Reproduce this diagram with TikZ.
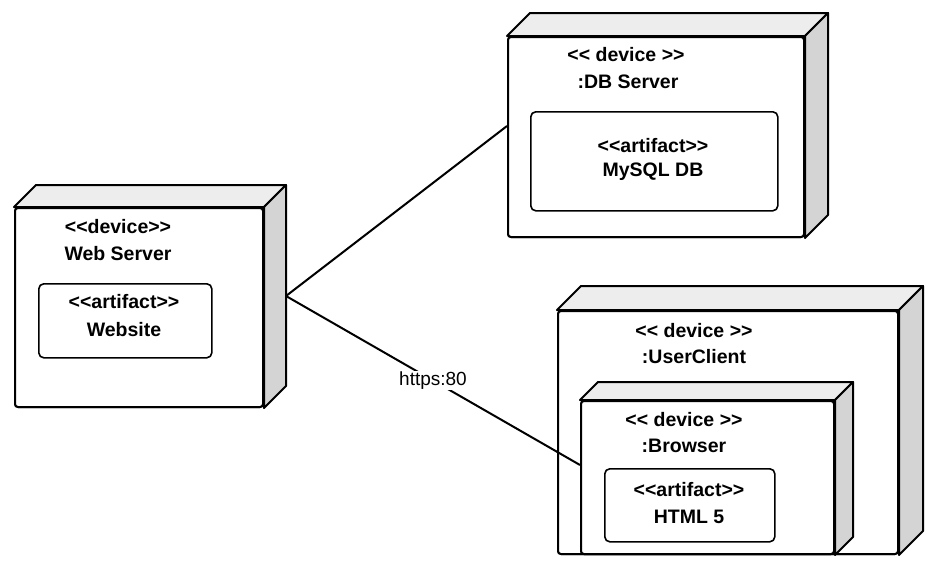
\documentclass[tikz,border=0pt]{standalone}
\usepackage{fontspec}
\setmainfont{Liberation Sans}
\newcommand\LLg{<\kern0pt<}
\newcommand\GGg{>\kern0pt>}
\begin{document}
\begin{tikzpicture}[x=1pt,y=-1pt,line width=2pt,line join=round,
  face/.style={draw,fill=white,rounded corners=3pt,anchor=north west,inner sep=0pt},
  art/.style={draw,fill=white,rounded corners=5pt,anchor=north west,inner sep=0pt,line width=1.6pt},
  lbl/.style={font=\fontsize{19.5}{22}\bfseries\selectfont,inner sep=0pt},
  topc/.style={fill=black!7,draw},
  sidec/.style={fill=black!17,draw}]
\useasboundingbox (0,0) rectangle (935,563);
\newcommand\cubefaces[2]{%
  \filldraw[topc] (#1.north west) -- ++(#2,-#2) -- ([shift={(#2,-#2)}]#1.north east) -- (#1.north east) -- cycle;
  \filldraw[sidec] (#1.north east) -- ++(#2,-#2) -- ([shift={(#2,-#2)}]#1.south east) -- (#1.south east) -- cycle;}
\coordinate (hub) at (286,296);
% Web Server
\node[face,minimum width=248,minimum height=199] (web) at (14,207) {};
\cubefaces{web}{22}
\node[face] at (14,207) [minimum width=248,minimum height=199] {};
\node[lbl] (webt1) at (118,227) {\LLg device\GGg};
\node[lbl] (webt2) at (118,254) {Web Server};
\node[art,minimum width=173,minimum height=74] (webart) at (38,283) {};
\node[lbl] (weba1) at (124,302) {\LLg artifact\GGg};
\node[lbl] (weba2) at (124,330) {Website};
% DB Server
\node[face,minimum width=296,minimum height=200] (db) at (507,36) {};
\cubefaces{db}{23}
\node[face,minimum width=296,minimum height=200] at (507,36) {};
\node[lbl] (dbt1) at (626,55) {\LLg{} device \GGg};
\node[lbl] (dbt2) at (628,82) {:DB Server};
\node[art,minimum width=247,minimum height=99] (dbart) at (530,111) {};
\node[lbl] (dba1) at (653,146) {\LLg artifact\GGg};
\node[lbl] (dba2) at (653,172) {MySQL DB};
% UserClient
\node[face,minimum width=340,minimum height=243] (uc) at (557,310) {};
\cubefaces{uc}{24}
\node[face,minimum width=340,minimum height=243] at (557,310) {};
\node[lbl] (uct1) at (694,331) {\LLg{} device \GGg};
\node[lbl] (uct2) at (694,357) {:UserClient};
% Browser
\node[face,minimum width=253,minimum height=153] (br) at (580,400) {};
\cubefaces{br}{18}
\node[face,minimum width=253,minimum height=153] at (580,400) {};
\node[lbl] (brt1) at (684,420) {\LLg{} device \GGg};
\node[lbl] (brt2) at (684,446) {:Browser};
\node[art,minimum width=170,minimum height=73] (htart) at (604,468) {};
\node[lbl] (hta1) at (689,490) {\LLg artifact\GGg};
\node[lbl] (hta2) at (689,517) {HTML 5};
% connectors
\draw (hub) -- (db.west |- 0,126);
\draw (hub) -- (br.west |- 0,465) node[pos=0.5,fill=white,inner sep=1pt,font=\fontsize{19}{22}\selectfont] (lab) {https:80};
\end{tikzpicture}
\end{document}
